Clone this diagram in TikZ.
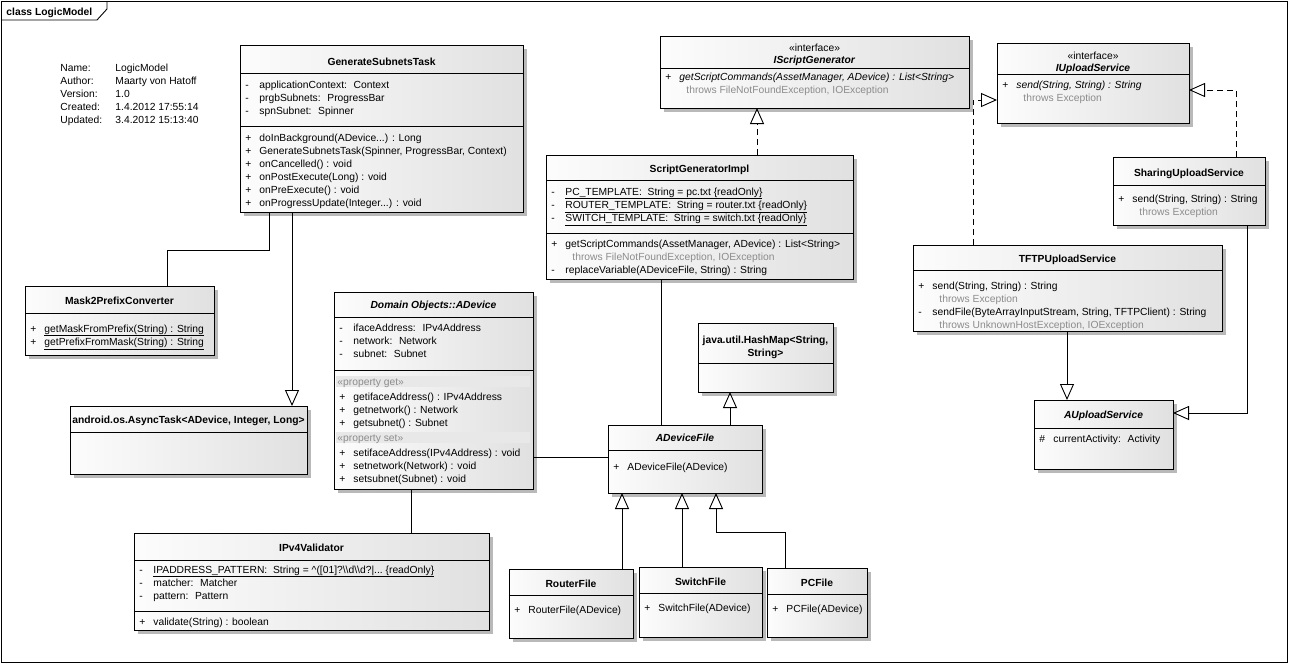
\documentclass[tikz,border=0pt]{standalone}
\usepackage{fontspec}
\setmainfont{Liberation Sans}
\usetikzlibrary{arrows.meta,shadows}

\definecolor{throwgray}{gray}{0.55}
\definecolor{bandgray}{gray}{0.91}
\newcommand{\rowlist}[1]{\begin{tabular}[t]{@{}p{14pt}@{}l@{}}#1\end{tabular}}
\newcommand{\throwsline}[1]{\hspace{7pt}\textcolor{throwgray}{throws #1}}

\tikzset{
  umlbox/.style={draw, anchor=north west, inner sep=0pt, outer sep=0pt,
    left color=gray!2, right color=gray!24,
    drop shadow={shadow xshift=4pt, shadow yshift=-4pt, fill=gray!55, opacity=1}},
  umltitle/.style={anchor=base, inner sep=0pt, font=\fontsize{10.3}{13}\selectfont\bfseries},
  umltext/.style={anchor=base west, inner sep=0pt},
  genarrow/.style={-{Triangle[open, length=16pt, width=14pt]}},
  realarrow/.style={genarrow, dash pattern=on 6pt off 4pt},
}

\begin{document}
\begin{tikzpicture}[x=1pt, y=-1pt, line width=0.9pt, font=\fontsize{10.3}{13}\selectfont]
  \useasboundingbox (0,0) rectangle (1289,664);

  % frame
  \draw (1,1) rectangle (1287,662);
  \draw (1,20) -- (97,20) -- (107,9) -- (107,1);
  \node[umltext, font=\fontsize{10.3}{13}\selectfont\bfseries] (frame-lbl) at (6,15) {class LogicModel};

  % model info
  \node[umltext] (info) at (60,71) {\begin{tabular}[t]{@{}p{55pt}@{}l@{}}
    Name: & LogicModel\\ Author: & Maarty von Hatoff\\ Version: & 1.0\\
    Created: & 1.4.2012 17:55:14\\ Updated: & 3.4.2012 15:13:40\end{tabular}};

  % GenerateSubnetsTask
  \node[umlbox, minimum width=283pt, minimum height=167pt] (gst) at (240,45) {};
  \draw (gst.west |- 0,73) -- (gst.east |- 0,73);
  \draw (gst.west |- 0,126) -- (gst.east |- 0,126);
  \node[umltitle] (gst-t) at (gst.north |- 0,65) {GenerateSubnetsTask};
  \node[umltext] (gst-a) at (245,88) {\rowlist{- & applicationContext:~ Context\\
    - & prgbSubnets:~ ProgressBar\\ - & spnSubnet:~ Spinner}};
  \node[umltext] (gst-m) at (245,141) {\rowlist{+ & doInBackground(ADevice...) : Long\\
    + & GenerateSubnetsTask(Spinner, ProgressBar, Context)\\
    + & onCancelled() : void\\ + & onPostExecute(Long) : void\\
    + & onPreExecute() : void\\ + & onProgressUpdate(Integer...) : void}};

  % Mask2PrefixConverter
  \node[umlbox, minimum width=189pt, minimum height=69pt] (m2p) at (25,286) {};
  \draw (m2p.west |- 0,313) -- (m2p.east |- 0,313);
  \node[umltitle] (m2p-t) at (m2p.north |- 0,304) {Mask2PrefixConverter};
  \node[umltext] (m2p-m) at (30,332) {\rowlist{+ & \underline{getMaskFromPrefix(String) : String}\\
    + & \underline{getPrefixFromMask(String) : String}}};

  % AsyncTask
  \node[umlbox, minimum width=237pt, minimum height=68pt] (async) at (70,406) {};
  \draw (async.west |- 0,432) -- (async.east |- 0,432);
  \node[umltitle] (async-t) at (async.north |- 0,423) {android.os.AsyncTask<ADevice, Integer, Long>};

  % ADevice
  \node[umlbox, minimum width=199pt, minimum height=197pt] (adev) at (334,292) {};
  \draw (adev.west |- 0,317) -- (adev.east |- 0,317);
  \draw (adev.west |- 0,370) -- (adev.east |- 0,370);
  \fill[bandgray] (336,376) rectangle (530,387);
  \fill[bandgray] (336,432) rectangle (530,443);
  \node[umltitle, font=\fontsize{10.3}{13}\selectfont\bfseries\itshape] (adev-t) at (adev.north |- 0,308) {Domain Objects::ADevice};
  \node[umltext] (adev-a) at (339,331) {\rowlist{- & ifaceAddress:~ IPv4Address\\
    - & network:~ Network\\ - & subnet:~ Subnet}};
  \node[umltext, text=throwgray] (adev-pg) at (337,385) {«property get»};
  \node[umltext] (adev-g) at (339,400) {\rowlist{+ & getifaceAddress() : IPv4Address\\
    + & getnetwork() : Network\\ + & getsubnet() : Subnet}};
  \node[umltext, text=throwgray] (adev-ps) at (337,441) {«property set»};
  \node[umltext] (adev-s) at (339,456) {\rowlist{+ & setifaceAddress(IPv4Address) : void\\
    + & setnetwork(Network) : void\\ + & setsubnet(Subnet) : void}};

  % IPv4Validator
  \node[umlbox, minimum width=355pt, minimum height=97pt] (ipv4) at (134,533) {};
  \draw (ipv4.west |- 0,560) -- (ipv4.east |- 0,560);
  \draw (ipv4.west |- 0,611) -- (ipv4.east |- 0,611);
  \node[umltitle] (ipv4-t) at (ipv4.north |- 0,551) {IPv4Validator};
  \node[umltext] (ipv4-a) at (139,573) {\rowlist{- & \underline{IPADDRESS\_PATTERN:~ String = \textasciicircum([01]?\textbackslash\textbackslash d\textbackslash\textbackslash d?|...~\{readOnly\}}\\
    - & matcher:~ Matcher\\ - & pattern:~ Pattern}};
  \node[umltext] (ipv4-m) at (139,625) {\rowlist{+ & validate(String) : boolean}};

  % IScriptGenerator
  \node[umlbox, minimum width=309pt, minimum height=72pt] (isg) at (660,36) {};
  \draw (isg.west |- 0,68) -- (isg.east |- 0,68);
  \node[anchor=base, inner sep=0pt] (isg-t) at (isg.north |- 0,51) {\begin{tabular}[t]{@{}c@{}}
    «interface»\\[-1pt] \textbf{\textit{IScriptGenerator}}\end{tabular}};
  \node[umltext] (isg-m) at (665,80) {\rowlist{+ & \textit{getScriptCommands(AssetManager, ADevice) : List<String>}\\
    & \throwsline{FileNotFoundException, IOException}}};

  % ScriptGeneratorImpl
  \node[umlbox, minimum width=307pt, minimum height=124pt] (sgi) at (546,155) {};
  \draw (sgi.west |- 0,180) -- (sgi.east |- 0,180);
  \draw (sgi.west |- 0,233) -- (sgi.east |- 0,233);
  \node[umltitle] (sgi-t) at (sgi.north |- 0,172) {ScriptGeneratorImpl};
  \node[umltext] (sgi-a) at (551,195) {\rowlist{- & \underline{PC\_TEMPLATE:~ String = pc.txt \{readOnly\}}\\
    - & \underline{ROUTER\_TEMPLATE:~ String = router.txt \{readOnly\}}\\
    - & \underline{SWITCH\_TEMPLATE:~ String = switch.txt \{readOnly\}}}};
  \node[umltext] (sgi-m) at (551,247) {\rowlist{+ & getScriptCommands(AssetManager, ADevice) : List<String>\\
    & \throwsline{FileNotFoundException, IOException}\\
    - & replaceVariable(ADeviceFile, String) : String}};

  % IUploadService
  \node[umlbox, minimum width=192pt, minimum height=80pt] (iup) at (997,43) {};
  \draw (iup.west |- 0,74) -- (iup.east |- 0,74);
  \node[anchor=base, inner sep=0pt] (iup-t) at (iup.north |- 0,59) {\begin{tabular}[t]{@{}c@{}}
    «interface»\\[-1pt] \textbf{\textit{IUploadService}}\end{tabular}};
  \node[umltext] (iup-m) at (1002,88) {\rowlist{+ & \textit{send(String, String) : String}\\
    & \throwsline{Exception}}};

  % SharingUploadService
  \node[umlbox, minimum width=152pt, minimum height=68pt] (sus) at (1113,157) {};
  \draw (sus.west |- 0,185) -- (sus.east |- 0,185);
  \node[umltitle] (sus-t) at (sus.north |- 0,176) {SharingUploadService};
  \node[umltext] (sus-m) at (1118,202) {\rowlist{+ & send(String, String) : String\\
    & \throwsline{Exception}}};

  % TFTPUploadService
  \node[umlbox, minimum width=309pt, minimum height=86pt] (tftp) at (913,245) {};
  \draw (tftp.west |- 0,270) -- (tftp.east |- 0,270);
  \node[umltitle] (tftp-t) at (tftp.north |- 0,262) {TFTPUploadService};
  \node[umltext] (tftp-m) at (918,289) {\rowlist{+ & send(String, String) : String\\
    & \throwsline{Exception}\\
    - & sendFile(ByteArrayInputStream, String, TFTPClient) : String\\
    & \throwsline{UnknownHostException, IOException}}};

  % AUploadService
  \node[umlbox, minimum width=139pt, minimum height=69pt] (aup) at (1034,400) {};
  \draw (aup.west |- 0,428) -- (aup.east |- 0,428);
  \node[umltitle, font=\fontsize{10.3}{13}\selectfont\bfseries\itshape] (aup-t) at (aup.north |- 0,418) {AUploadService};
  \node[umltext] (aup-a) at (1039,442) {\rowlist{\# & currentActivity:~ Activity}};

  % HashMap
  \node[umlbox, minimum width=135pt, minimum height=69pt] (hmap) at (698,323) {};
  \draw (hmap.west |- 0,363) -- (hmap.east |- 0,363);
  \node[umltitle] (hmap-t) at (hmap.north |- 0,343) {\begin{tabular}[t]{@{}c@{}}
    java.util.HashMap<String,\\ String>\end{tabular}};

  % ADeviceFile
  \node[umlbox, minimum width=154pt, minimum height=68pt] (adf) at (608,425) {};
  \draw (adf.west |- 0,450) -- (adf.east |- 0,450);
  \node[umltitle, font=\fontsize{10.3}{13}\selectfont\bfseries\itshape] (adf-t) at (adf.north |- 0,441) {ADeviceFile};
  \node[umltext] (adf-m) at (613,470) {\rowlist{+ & ADeviceFile(ADevice)}};

  % RouterFile, SwitchFile, PCFile
  \node[umlbox, minimum width=124pt, minimum height=69pt] (router) at (509,569) {};
  \draw (router.west |- 0,595) -- (router.east |- 0,595);
  \node[umltitle] (router-t) at (router.north |- 0,587) {RouterFile};
  \node[umltext] (router-m) at (514,613) {\rowlist{+ & RouterFile(ADevice)}};

  \node[umlbox, minimum width=123pt, minimum height=70pt] (switch) at (639,567) {};
  \draw (switch.west |- 0,593) -- (switch.east |- 0,593);
  \node[umltitle] (switch-t) at (switch.north |- 0,585) {SwitchFile};
  \node[umltext] (switch-m) at (644,611) {\rowlist{+ & SwitchFile(ADevice)}};

  \node[umlbox, minimum width=100pt, minimum height=69pt] (pcf) at (767,568) {};
  \draw (pcf.west |- 0,594) -- (pcf.east |- 0,594);
  \node[umltitle] (pcf-t) at (pcf.north |- 0,586) {PCFile};
  \node[umltext] (pcf-m) at (772,612) {\rowlist{+ & PCFile(ADevice)}};

  % connectors
  \draw (gst.south -| 269,0) -- (269,250) -| (m2p.north -| 167,0);
  \draw[genarrow] (gst.south -| 292,0) -- (async.north -| 292,0);
  \draw (adev.south -| 411,0) -- (ipv4.north -| 411,0);
  \draw (adev.east |- 0,457) -- (adf.west |- 0,457);
  \draw (sgi.south -| 661,0) -- (adf.north -| 661,0);
  \draw[realarrow] (sgi.north -| 757,0) -- (isg.south -| 757,0);
  \draw[genarrow] (adf.north -| 730,0) -- (hmap.south -| 730,0);
  \draw[genarrow] (router.north -| 622,0) -- (adf.south -| 622,0);
  \draw[genarrow] (switch.north -| 682,0) -- (adf.south -| 682,0);
  \draw[genarrow] (pcf.north -| 785,0) |- (716,532) -- (adf.south -| 716,0);
  \draw[realarrow] (tftp.north -| 973,0) |- (iup.west |- 0,100);
  \draw[realarrow] (sus.north -| 1236,0) |- (iup.east |- 0,90);
  \draw[genarrow] (tftp.south -| 1067,0) -- (aup.north -| 1067,0);
  \draw[genarrow] (sus.south -| 1247,0) |- (aup.east |- 0,413);
\end{tikzpicture}
\end{document}
